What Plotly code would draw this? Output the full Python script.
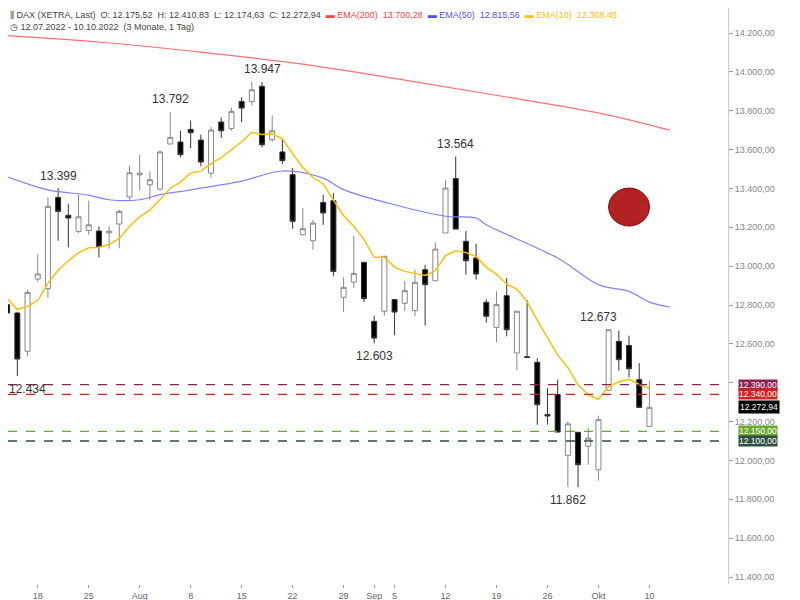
import plotly.graph_objects as go
import pandas as pd

dates = pd.bdate_range("2022-07-12", "2022-10-10").strftime("%Y-%m-%d").tolist()
opens  = [12900,12802,12759,12562,12934,12884,13354,13262,13179,13184,13181,13171,13217,13356,13470,13419,13397,
          13629,13639,13704,13649,13479,13742,13709,13848,13848,13926,13651,13588,13471,13162,13131,13328,13337,
          12840,12918,13020,12716,12768,12828,12809,12771,12982,12925,13171,13451,13128,13042,12814,12685,12848,
          12553,12534,12505,12236,12339,12026,12145,12073,11952,12361,12613,12592,12416,12175.52]
highs  = [12930,12888,12765,12879,13062,13354,13402,13321,13368,13337,13205,13205,13290,13517,13574,13488,13597,
          13792,13697,13749,13677,13716,13766,13816,13869,13948,13947,13776,13660,13505,13299,13239,13368,13376,
          12943,13157,13020,12745,13051,12828,12925,12982,13007,13123,13442,13564,13182,13114,12830,12870,12939,
          12768,12827,12527,12373,12416,12201,12145,12167,12230,12673,12668,12642,12501,12410.83]
lows   = [12750,12630,12434,12536,12922,12836,13131,13097,13171,13162,13045,13090,13093,13342,13390,13342,13388,
          13629,13560,13608,13514,13457,13660,13697,13742,13828,13612,13639,13526,13193,13160,13085,13213,12948,
          12764,12888,12815,12603,12745,12645,12768,12742,12694,12925,13171,13191,12956,12930,12709,12610,12639,
          12466,12530,12184,12184,12146,11862,11862,11978,11896,12361,12462,12428,12273,12174.63]
closes = [12850,12759,12522,12865,12960,13308,13282,13248,13254,13213,13102,13180,13282,13481,13479,13445,13588,
          13663,13574,13687,13536,13701,13697,13797,13814,13908,13625,13697,13543,13231,13193,13222,13274,12973,
          12891,12963,12833,12630,13051,12764,12874,12917,12905,13088,13402,13191,13028,12960,12742,12802,12673,
          12768,12530,12287,12229,12146,12188,11978,12115,12210,12673,12519,12472,12273,12272.94]

ema200_dates = ["2022-07-12","2022-07-26","2022-08-09","2022-08-23","2022-09-06","2022-09-20","2022-10-04","2022-10-12"]
ema200_vals  = [14190,14154,14102,14040,13958,13871,13778,13700]
ema50_dates = ["2022-07-12","2022-07-19","2022-07-25","2022-07-27","2022-08-01","2022-08-03","2022-08-08","2022-08-15",
               "2022-08-19","2022-08-25","2022-08-29","2022-09-05","2022-09-12","2022-09-15","2022-09-16","2022-09-27",
               "2022-10-03","2022-10-06","2022-10-10","2022-10-12"]
ema50_vals  = [13479,13393,13366,13342,13342,13368,13393,13438,13490,13453,13394,13316,13257,13248,13213,13042,
               12905,12870,12815,12790]
ema10 = pd.Series(closes).ewm(span=10, adjust=False).mean().tolist()

hlines = [12390, 12340, 12150, 12100]
hline_colors = ["#8b2252", "#d62020", "#6aaa2a", "#2f4f3f"]
ytick_vals = list(range(11400, 14201, 200))
ytick_text = ["" if v == 12400 else f"{v//1000}.{v%1000:03d},00" for v in ytick_vals]
xtick_vals = ["2022-07-18","2022-07-25","2022-08-01","2022-08-08","2022-08-15","2022-08-22","2022-08-29","2022-09-01",
              "2022-09-05","2022-09-12","2022-09-19","2022-09-26","2022-10-03","2022-10-10"]
xtick_text = ["18","25","Aug","8","15","22","29","Sep","5","12","19","26","Okt","10"]
peak_labels = [("2022-07-20",13399,"13.399","top"),("2022-08-04",13792,"13.792","top"),
               ("2022-08-17",13947,"13.947","top"),("2022-09-13",13564,"13.564","top"),
               ("2022-09-01",12603,"12.603","bottom"),("2022-07-15",12434,"12.434","bottom"),
               ("2022-10-03",12673,"12.673","top"),("2022-09-28",11862,"11.862","bottom")]

fig = go.Figure()
fig.add_trace(go.Candlestick(x=dates, open=opens, high=highs, low=lows, close=closes,
    increasing=dict(line=dict(color="#888888", width=1), fillcolor="white"),
    decreasing=dict(line=dict(color="#333333", width=1), fillcolor="black"),
    whiskerwidth=0, showlegend=False, hoverinfo="skip"))
fig.add_trace(go.Scatter(x=ema200_dates, y=ema200_vals, mode="lines", line=dict(color="#ff7070", width=1.2, shape="spline"), showlegend=False))
fig.add_trace(go.Scatter(x=ema50_dates, y=ema50_vals, mode="lines", line=dict(color="#8080ff", width=1.2, shape="spline"), showlegend=False))
fig.add_trace(go.Scatter(x=dates, y=ema10, mode="lines", line=dict(color="#ffc000", width=1.5), showlegend=False))

for v, c in zip(hlines, hline_colors):
    fig.add_shape(type="line", xref="paper", x0=0, x1=1, yref="y", y0=v, y1=v, line=dict(color=c, width=1.3, dash="dash"))
    fig.add_annotation(xref="paper", x=1, y=v, text=f"{v//1000}.{v%1000:03d},00", showarrow=False, xanchor="left", xshift=10,
                       font=dict(size=8.5, color="white", family="Arial"), bgcolor=c, borderpad=0)
fig.add_annotation(xref="paper", x=1, y=closes[-1], text="12.272,94", showarrow=False, xanchor="left", xshift=10,
                   font=dict(size=8.5, color="white", family="Arial"), bgcolor="black", borderpad=1)

for d, v, t, pos in peak_labels:
    fig.add_annotation(x=d, y=v, text=t, showarrow=False, yanchor="bottom" if pos == "top" else "top",
                       yshift=4 if pos == "top" else -4, font=dict(size=12, color="#333", family="Arial"))

fig.add_shape(type="circle", xref="x", yref="y", x0="2022-10-04", x1="2022-10-10", y0=13207, y1=13402,
              fillcolor="#b22222", line=dict(color="#8b0000", width=1))

fig.add_annotation(xref="paper", yref="paper", x=0, y=1, xanchor="left", yanchor="top", align="left", showarrow=False,
    text=("⫼ DAX (XETRA, Last)  O: 12.175,52  H: 12.410,83  L: 12.174,63  C: 12.272,94  "
          "<span style='color:#ff4040'>▬ EMA(200)  13.700,28</span>  "
          "<span style='color:#5050ff'>▬ EMA(50)  12.815,56</span>  "
          "<span style='color:#ffc000'>▬ EMA(10)  12.368,45</span><br>"
          "◷ 12.07.2022 - 10.10.2022  (3 Monate, 1 Tag)"),
    font=dict(size=9, color="#444", family="Arial"))

fig.update_layout(width=800, height=600, margin=dict(l=0, r=80, t=0, b=24),
    plot_bgcolor="white", paper_bgcolor="white",
    xaxis=dict(type="date", rangebreaks=[dict(bounds=["sat", "mon"])], range=["2022-07-13 02:00", "2022-10-19 17:00"],
               tickvals=xtick_vals, ticktext=xtick_text, showgrid=False, rangeslider=dict(visible=False),
               ticks="outside", ticklen=3, tickcolor="#999", tickfont=dict(size=9, color="#666", family="Arial"),
               showline=False, zeroline=False),
    yaxis=dict(side="right", range=[11364, 14329], tickvals=ytick_vals, ticktext=ytick_text, showgrid=False,
               ticks="outside", ticklen=4, tickcolor="#999", tickfont=dict(size=9, color="#888", family="Arial"),
               showline=True, linecolor="#ccc", zeroline=False))
fig.write_html("out.html")
